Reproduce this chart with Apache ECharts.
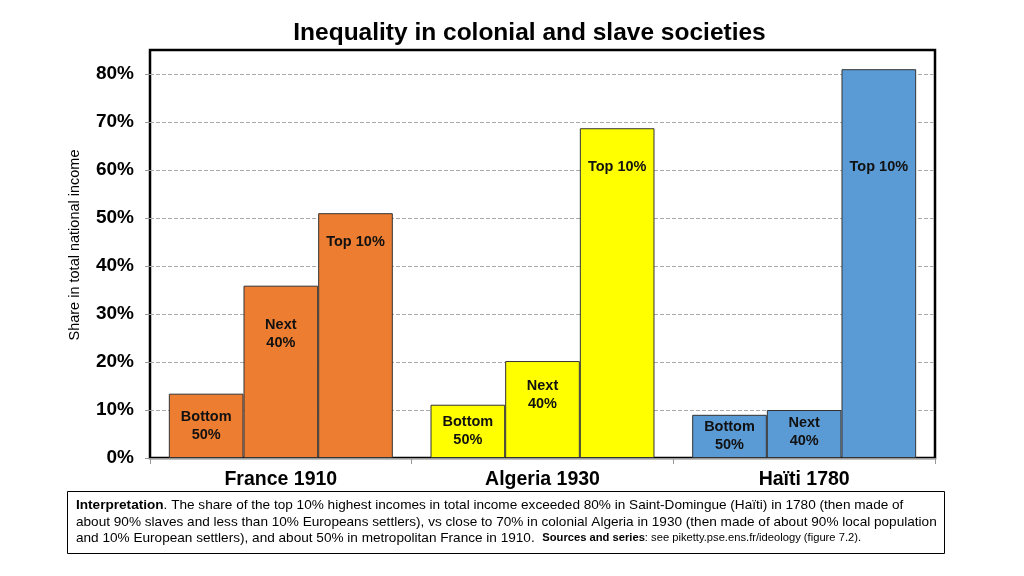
<!DOCTYPE html>
<html>
<head>
<meta charset="utf-8">
<script src="https://cdn.jsdelivr.net/npm/echarts@6/dist/echarts.min.js"></script>
<style>
html,body{margin:0;padding:0;background:#fff;}
#chart{width:1024px;height:576px;}
</style>
</head>
<body>
<div id="chart"></div>
<script>
const categories = ['France 1910', 'Algeria 1930', 'Haïti 1780'];
const groupNames = ['Bottom\n50%', 'Next\n40%', 'Top 10%'];
const bottom50 = [13.4, 11.1, 9.0];
const next40 = [35.9, 20.2, 10.0];
const top10 = [51.0, 68.7, 81.0];
const yTicks = [0, 10, 20, 30, 40, 50, 60, 70, 80];

const catColors = ['#ED7D31', '#FFFF00', '#5B9BD5'];
const FONT = '"Liberation Sans", Arial, sans-serif';

const labelBase = {
  show: true, color: '#111', fontFamily: FONT, fontWeight: 'bold', fontSize: 14.5, lineHeight: 18
};

function makeSeries(name, values, labelOpt, perItem) {
  return {
    name: name.replace('\n', ' '),
    type: 'bar',
    barGap: '0%',
    barCategoryGap: '14.4%',
    data: values.map((v, i) => {
      const item = { value: v };
      if (perItem && perItem[i] != null) item.label = { distance: perItem[i] };
      return item;
    }),
    itemStyle: {
      color: p => catColors[p.dataIndex],
      borderColor: '#333',
      borderWidth: 1
    },
    label: Object.assign({}, labelBase, labelOpt, { formatter: name }),
    z: 3
  };
}

const chart = echarts.init(document.getElementById('chart'), null, { renderer: 'canvas' });
chart.setOption({
  animation: false,
  backgroundColor: '#fff',
  grid: {
    left: 150, right: 89, top: 50, bottom: 118,
    show: true, borderColor: '#000', borderWidth: 2.5, backgroundColor: 'transparent'
  },
  xAxis: {
    type: 'category',
    data: categories,
    axisLine: { lineStyle: { color: '#999', width: 1 } },
    axisTick: { show: true, length: 6, lineStyle: { color: '#999' } },
    axisLabel: { fontFamily: FONT, fontWeight: 'bold', fontSize: 19.5, color: '#000', margin: 12 }
  },
  yAxis: {
    type: 'value',
    min: 0, max: 85, interval: 10,
    axisLine: { show: false },
    axisTick: { show: true, length: 5, customValues: yTicks, lineStyle: { color: '#999' } },
    axisLabel: {
      fontFamily: FONT, fontWeight: 'bold', fontSize: 19, color: '#000', margin: 16,
      customValues: yTicks,
      formatter: v => (yTicks.indexOf(v) >= 0 ? v + '%' : '')
    },
    splitLine: { lineStyle: { color: '#aaa', type: [4, 2], width: 1 } }
  },
  series: [
    makeSeries(groupNames[0], bottom50, { position: 'inside' }),
    makeSeries(groupNames[1], next40, { position: 'insideTop', distance: 10 }, [30, 16, 4]),
    makeSeries(groupNames[2], top10, { position: 'insideTop', distance: 20 }, [20, 30, 89])
  ],
  graphic: [
    {
      type: 'text', x: 529.5, y: 33,
      style: {
        text: 'Inequality in colonial and slave societies',
        fontFamily: FONT, fontWeight: 'bold', fontSize: 24.5, fill: '#000',
        textAlign: 'center', textVerticalAlign: 'middle'
      }
    },
    {
      type: 'text', x: 75, y: 245, rotation: Math.PI / 2,
      style: {
        text: 'Share in total national income',
        fontFamily: FONT, fontSize: 14.5, fill: '#000',
        textAlign: 'center', textVerticalAlign: 'middle'
      }
    },
    {
      type: 'rect',
      shape: { x: 67.5, y: 491.5, width: 877, height: 62 },
      style: { fill: '#fff', stroke: '#000', lineWidth: 1 }
    },
    {
      type: 'text', x: 76, y: 497,
      style: {
        text: '{b|Interpretation}{n|. The share of the top 10% highest incomes in total income exceeded 80% in Saint-Domingue (Haïti) in 1780 (then made of}\n' +
              '{n|about 90% slaves and less than 10% Europeans settlers), vs close to 70% in colonial Algeria in 1930 (then made of about 90% local population}\n' +
              '{n|and 10% European settlers), and about 50% in metropolitan France in 1910.  }{sb|Sources and series}{s|: see piketty.pse.ens.fr/ideology (figure 7.2).}',
        fontFamily: FONT, fontSize: 13.6, fill: '#000', lineHeight: 16.5,
        rich: {
          b: { fontFamily: FONT, fontSize: 13.6, fontWeight: 'bold', lineHeight: 16.5 },
          n: { fontFamily: FONT, fontSize: 13.6, lineHeight: 16.5 },
          sb: { fontFamily: FONT, fontSize: 11.2, fontWeight: 'bold', lineHeight: 16.5 },
          s: { fontFamily: FONT, fontSize: 11.2, lineHeight: 16.5 }
        }
      }
    }
  ]
});
</script>
</body>
</html>
